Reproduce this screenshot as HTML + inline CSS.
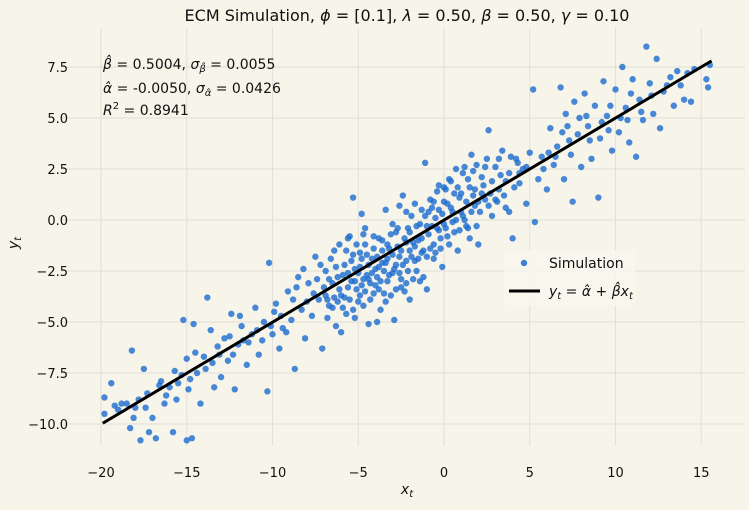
<!DOCTYPE html>
<html><head><meta charset="utf-8"><style>
body{margin:0;background:#f7f5e9;}
svg{font-family:"DejaVu Sans","Liberation Sans",sans-serif;}
</style></head><body>
<svg width="749" height="505" viewBox="0 0 749 505">
<rect width="749" height="505" fill="#f7f5e9"/>
<g id="grid"></g>
<g id="ticks"></g>
<g id="pts"></g>
<g id="fit"></g>
<text x="407" y="21" text-anchor="middle" font-size="16" fill="#111">ECM Simulation, <tspan font-style="italic">ϕ</tspan> = [0.1], <tspan font-style="italic">λ</tspan> = 0.50, <tspan font-style="italic">β</tspan> = 0.50, <tspan font-style="italic">γ</tspan> = 0.10</text>
<g font-size="14" fill="#111">
<text x="103" y="69"><tspan font-style="italic">β̂</tspan> = 0.5004, <tspan font-style="italic">σ</tspan><tspan font-size="10" dy="3" font-style="italic">β̂</tspan><tspan dy="-3"> = 0.0055</tspan></text>
<text x="103" y="93"><tspan font-style="italic">α̂</tspan> = -0.0050, <tspan font-style="italic">σ</tspan><tspan font-size="10" dy="3" font-style="italic">α̂</tspan><tspan dy="-3"> = 0.0426</tspan></text>
<text x="103" y="115"><tspan font-style="italic">R</tspan><tspan font-size="10" dy="-6">2</tspan><tspan dy="6"> = 0.8941</tspan></text>
</g>
<g id="legend">
<rect x="504" y="250" width="131" height="56" rx="3" fill="#f9f8ee" opacity="0.8"/>
<circle cx="524" cy="263" r="3.2" fill="#1a6bcf" opacity="0.85"/>
<text x="549" y="268" font-size="14" fill="#111">Simulation</text>
<line x1="509" y1="291" x2="540" y2="291" stroke="#000" stroke-width="3"/>
<text x="549" y="296" font-size="14" fill="#111" font-style="italic">y<tspan font-size="10" dy="3">t</tspan><tspan dy="-3" font-style="normal"> = </tspan>α̂<tspan font-style="normal"> + </tspan>β̂x<tspan font-size="10" dy="3">t</tspan></text>
</g>
<text x="407" y="494" text-anchor="middle" font-size="14" font-style="italic" fill="#111">x<tspan font-size="10" dy="3">t</tspan></text>
<text transform="translate(18,243) rotate(-90)" text-anchor="middle" font-size="14" font-style="italic" fill="#111">y<tspan font-size="10" dy="3">t</tspan></text>
</svg>
<script>
const xTicks=[-20,-15,-10,-5,0,5,10,15];
const yTicks=[-10,-7.5,-5,-2.5,0,2.5,5,7.5];
const yTickLabels=["−10.0","−7.5","−5.0","−2.5","0.0","2.5","5.0","7.5"];
const alphaHat=-0.005;
const betaHat=0.5004;
const fitRange=[-19.9,15.6];
const samples=[[-19.8,-9.5],[-19.8,-8.7],[-19.4,-8],[-19,-9.3],[-18.5,-9],[-18.2,-6.4],[-18.3,-10.2],[-18,-9.2],[-17.7,-10.8],[-17.5,-7.3],[-17.3,-8.5],[-17.2,-10.4],[-17,-9.7],[-16.8,-10.7],[-16.5,-7.9],[-16.3,-9],[-16,-8.2],[-15.8,-10.4],[-15.6,-8.8],[-15.3,-7.6],[-15.2,-4.9],[-15,-6.8],[-15,-10.8],[-14.9,-8.3],[-14.7,-10.7],[-14.6,-5.1],[-14.4,-7.5],[-14.2,-9],[-14,-6.7],[-13.8,-3.8],[-13.6,-5.4],[-13.4,-8.2],[-13.2,-6.2],[-13,-7.7],[-12.8,-5.8],[-12.6,-6.9],[-12.4,-4.6],[-12.2,-8.3],[-12,-6.1],[-11.8,-5.2],[-11.5,-7.1],[-11.2,-5.6],[-11,-4.3],[-10.8,-6.6],[-10.5,-5.0],[-10.3,-8.4],[-10.2,-2.1],[-10,-5.6],[-9.8,-4.1],[-9.6,-6.3],[-9.4,-5.3],[-9.1,-3.5],[-8.9,-4.9],[-8.7,-7.3],[-8.5,-2.8],[-8.3,-4.4],[-8.1,-5.8],[-7.9,-3.1],[-7.7,-4.7],[-7.5,-1.8],[-7.3,-3.9],[-7.1,-6.3],[-6.9,-2.5],[-6.7,-4.2],[-6.5,-3.1],[-6.3,-5.2],[-6.1,-1.2],[-6,-3.7],[-5.8,-2.2],[-5.7,-4.6],[-5.5,-0.8],[-5.4,-3.0],[-5.3,1.1],[-5.2,-2.4],[-5.0,-4.0],[-4.9,-1.6],[-4.8,-3.2],[-4.6,-0.4],[-4.5,-2.7],[-4.4,-5.1],[-4.2,-1.9],[-4.1,-3.6],[-4,-2.4],[-3.8,-0.9],[-3.7,-4.4],[-3.6,-2.1],[-3.4,0.5],[-3.3,-3.0],[-3.2,-1.4],[-3,-2.6],[-2.9,-4.9],[-2.8,-0.6],[-2.6,-1.8],[-2.5,-3.3],[-2.4,1.2],[-2.2,-2.0],[-2.1,-0.4],[-2,-3.9],[-1.8,-1.1],[-1.7,0.8],[-1.6,-2.5],[-1.4,-0.2],[-1.3,-1.6],[-1.1,2.8],[-1,-3.4],[-0.9,-0.7],[-0.7,0.6],[-0.6,-1.9],[-0.4,1.4],[-0.3,-0.5],[-0.1,-2.3],[0,0.9],[0.2,-0.8],[0.3,2.0],[0.5,-0.1],[0.6,1.3],[0.8,-1.5],[1,0.4],[1.1,2.3],[1.3,-0.3],[1.5,1.6],[1.6,3.2],[1.8,0.7],[2,-1.2],[2.2,2.1],[2.4,1.0],[2.6,4.4],[2.8,0.2],[3,2.6],[3.2,1.5],[3.4,3.4],[3.6,0.6],[3.8,2.3],[4,-0.9],[4.2,3.0],[4.4,1.8],[4.6,2.5],[4.8,0.8],[5,3.3],[5.2,6.4],[5.3,-0.1],[5.5,2.0],[5.7,3.1],[6,1.5],[6.2,4.5],[6.4,2.7],[6.6,3.6],[6.8,6.5],[7,2.0],[7.1,5.2],[7.3,3.9],[7.5,0.9],[7.6,5.8],[7.8,4.2],[8,2.6],[8.2,6.2],[8.4,4.6],[8.6,3.0],[8.8,5.6],[9,1.1],[9.1,4.0],[9.3,6.8],[9.5,5.1],[9.8,3.4],[10,6.4],[10.2,4.3],[10.4,7.5],[10.6,5.5],[10.8,3.8],[11,6.9],[11.2,3.1],[11.4,5.9],[11.6,4.9],[11.8,8.5],[12,6.7],[12.2,5.2],[12.4,7.9],[12.6,4.5],[12.8,6.3],[13.2,7.0],[13.4,5.6],[13.8,6.6],[14,5.9],[14.2,7.2],[14.4,5.8],[15.4,6.5],[15.5,7.6],[15.3,6.9],
[-7,-3.3],[-6.8,-4.8],[-6.6,-1.9],[-6.4,-3.8],[-6.2,-2.8],[-5.9,-4.3],[-5.6,-2.6],[-5.5,-3.9],[-5.3,-1.7],[-5.1,-3.4],[-4.9,-2.3],[-4.7,-4.2],[-4.6,-1.2],[-4.4,-2.9],[-4.3,-3.9],[-4.1,-1.4],[-3.9,-2.8],[-3.8,-3.4],[-3.6,-1.0],[-3.5,-2.5],[-3.3,-1.9],[-3.1,-3.7],[-3,-0.2],[-2.8,-2.2],[-2.7,-1.3],[-2.5,-2.9],[-2.3,-0.9],[-2.2,-3.1],[-2,-1.5],[-1.9,0.2],[-1.7,-2.0],[-1.5,-1.0],[-1.3,0.5],[-1.2,-2.8],[-1,-0.3],[-0.8,1.0],[-0.6,-1.2],[-0.5,0.1],[-0.3,1.7],[-0.2,-0.9],[0,-0.2],[0.1,1.5],[0.4,0.6],[0.6,-0.6],[0.7,2.5],[0.9,1.1],[1.2,0.0],[1.4,2.0],[1.7,1.2],[1.9,2.7],[2.1,0.4],[2.3,1.7],[2.5,3.0],[2.7,1.3],[3.1,0.9],[3.3,2.2],[3.5,1.2],[3.9,3.1],[4.1,1.6],[4.3,2.8],[-8,-4.0],[-8.6,-3.3],[-9.2,-5.5],[-9.9,-4.5],[-10.6,-5.9],[-11.4,-6.0],[-12.5,-5.7],[-13.5,-7.0],[-14.5,-6.5],[-16.2,-8.6],[-17.8,-8.8],[-18.8,-9.0],[-15.7,-7.4],[-11.9,-4.7],[-7.4,-2.9],[-6,-5.5],[-4.8,0.3],[-3.9,-5.0],[-2.6,0.7],[1.5,-0.9],
[-6.9,-3.7],[-6.7,-2.9],[-6.5,-4.3],[-6.3,-2.3],[-6.1,-3.4],[-5.9,-2.7],[-5.8,-3.8],[-5.7,-1.5],[-5.6,-3.3],[-5.4,-2.0],[-5.3,-4.4],[-5.2,-3.0],[-5.1,-1.2],[-5.0,-2.6],[-4.9,-3.7],[-4.8,-1.9],[-4.7,-2.9],[-4.6,-3.5],[-4.5,-1.7],[-4.4,-2.2],[-4.3,-3.1],[-4.2,-2.6],[-4.1,-0.8],[-4.0,-3.2],[-3.9,-1.8],[-3.8,-2.3],[-3.7,-3.0],[-3.6,-1.5],[-3.5,-3.6],[-3.4,-2.1],[-3.3,-1.2],[-3.2,-2.7],[-3.1,-0.7],[-3.0,-1.7],[-2.9,-2.4],[-2.8,-3.4],[-2.7,-0.4],[-2.6,-2.6],[-2.5,-1.5],[-2.4,-2.2],[-2.3,-3.5],[-2.2,-1.1],[-2.1,-2.5],[-2.0,-0.6],[-1.9,-1.8],[-1.8,-2.9],[-1.7,-1.3],[-1.6,-0.3],[-1.5,-1.9],[-1.4,-3.0],[-1.3,-0.9],[-1.2,-1.5],[-1.1,0.2],[-1.0,-1.8],[-0.9,0.4],[-0.8,-1.4],[-0.7,-0.3],[-0.6,0.9],[-0.5,-1.6],[-0.4,-0.4],[-0.3,0.5],[-0.2,-1.4],[-0.1,0.3],[0,1.6],[0.1,-0.4],[0.2,0.8],[0.3,-1.2],[0.4,1.9],[0.5,0.4],[0.7,0.0],[0.8,1.6],[0.9,-0.5],[1.0,1.3],[1.1,0.2],[1.2,2.6],[1.3,0.9],[1.4,-0.4],[1.6,0.4],[1.7,2.4],[1.8,1.5],[1.9,-0.3],[2.0,0.9],[2.2,1.3],[2.4,2.6],[2.6,0.7],[2.8,1.9],[3.0,1.0],[3.2,3.0],[3.6,1.9],[3.8,0.4],[4.4,2.3],[4.8,2.6],[-7.6,-3.6],[-7.2,-2.2],[-6.8,-3.9],[-6.4,-1.5],[-6.2,-4.0],[-5.6,-0.9],[-5.2,-4.8],[-4.7,-0.7],[-3.4,-4.0],[-2.2,0.4],[-8.2,-2.4],[-8.8,-3.9],[-9.5,-4.7],[-10.1,-5.2],[-10.9,-5.4],[-11.7,-5.9],[-12.3,-6.6],[-13.1,-6.6],[-13.9,-7.3],[-14.8,-7.8],[-15.5,-8.0],[-16.6,-8.1],[-17.4,-9.2],[-18.1,-9.7],[-19.2,-9.1],[5.8,2.5],[6.5,3.1],[6.9,4.3],[7.4,3.2],[7.9,5.0],[8.5,3.9],[9.2,4.8],[9.7,5.6],[10.3,5.0],[10.9,6.2],[11.5,5.3],[12.1,6.1],[13,6.6],[13.6,7.3],[14.6,7.4],[6.1,3.3],[7.2,4.6],[8.3,5.1],[9.6,4.4],[10.7,4.9]];

const X=v=>444+v*17.15;
const Y=v=>220-v*20.4;
const NS='http://www.w3.org/2000/svg';
function mk(tag,attrs,parent){const e=document.createElementNS(NS,tag);for(const k in attrs)e.setAttribute(k,attrs[k]);parent.appendChild(e);return e;}
const grid=document.getElementById('grid'),ticks=document.getElementById('ticks');
xTicks.forEach(t=>{
  const l=mk('line',{x1:X(t),x2:X(t),y1:28,y2:446,stroke:'#e2e0d8','stroke-width':1},grid);
  
  
  const tx=mk('text',{x:X(t),y:477,'text-anchor':'middle','font-size':13,fill:'#111'},ticks);
  tx.textContent=t<0?'−'+(-t):String(t);
  
  
});
yTicks.forEach((t,i)=>{
  const l=mk('line',{x1:62,x2:745,y1:Y(t),y2:Y(t),stroke:'#e2e0d8','stroke-width':1},grid);
  
  
  const tx=mk('text',{x:68,y:Y(t)+5,'text-anchor':'end','font-size':13,fill:'#111'},ticks);
  tx.textContent=yTickLabels[i];
  
  
});
const pts=document.getElementById('pts');
samples.forEach(p=>{
  const c=mk('circle',{cx:X(p[0]),cy:Y(p[1]),r:3.2,fill:'#1a6bcf','fill-opacity':0.8},pts);
  
  
});
const fl=mk('line',{x1:X(fitRange[0]),y1:Y(alphaHat+betaHat*fitRange[0]),x2:X(fitRange[1]),y2:Y(alphaHat+betaHat*fitRange[1]),stroke:'#000','stroke-width':3},document.getElementById('fit'));


</script>
</body></html>
